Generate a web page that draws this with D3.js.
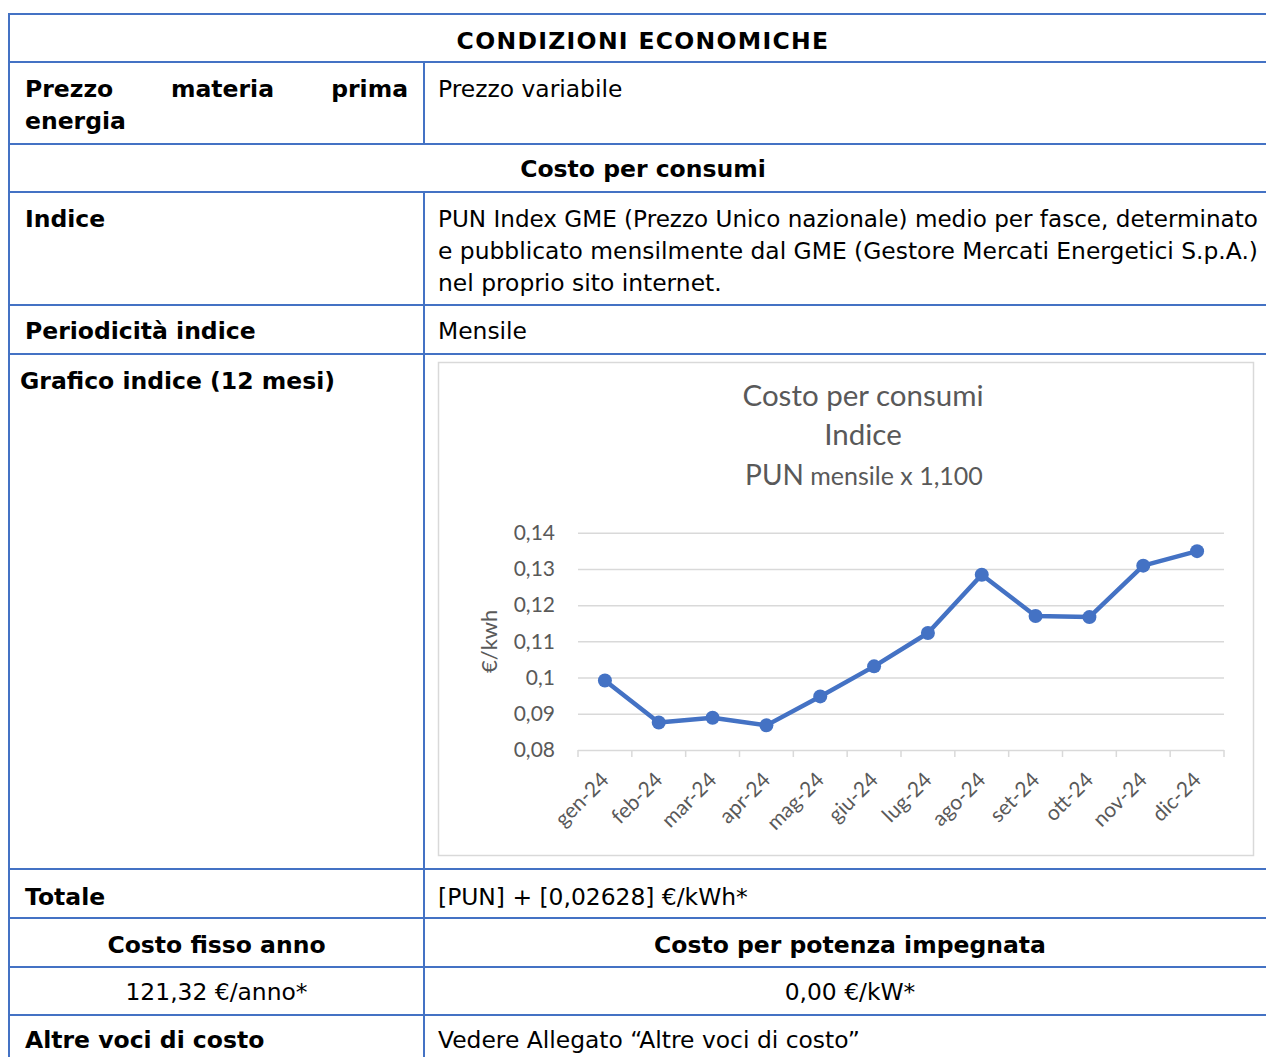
<!DOCTYPE html>
<html>
<head>
<meta charset="utf-8">
<script src="https://cdn.jsdelivr.net/npm/d3@7"></script>
<style>
body { margin: 0; background: #fff; }
svg text { font-family: "DejaVu Sans", sans-serif; }
.cell { font-size: 23.4px; fill: #000; }
.cell.b { font-size: 23.5px; font-weight: bold; }
.ch text { font-family: Lato, "Open Sans", sans-serif; fill: #595959; }
</style>
</head>
<body>
<div id="page"></div>
<script>
// chart data
var months = ["gen-24", "feb-24", "mar-24", "apr-24", "mag-24", "giu-24",
              "lug-24", "ago-24", "set-24", "ott-24", "nov-24", "dic-24"];
var pun = [0.0992, 0.0876, 0.0889, 0.0868, 0.0948, 0.1031,
           0.1123, 0.1284, 0.1170, 0.1167, 0.1309, 0.1349];
var yTicks = [0.08, 0.09, 0.10, 0.11, 0.12, 0.13, 0.14];
var titleLines = ["Costo per consumi", "Indice"];
var subTitle = ["PUN", " mensile x 1,100"];
var yTitle = "€/kwh";

var W = 1266, H = 1057;
var blue = "#4472C4";

var svg = d3.select("#page").append("svg")
    .attr("width", W)
    .attr("height", H);

svg.append("rect").attr("width", W).attr("height", H).attr("fill", "#fff");

// ---- table ----
var rowLines = [14, 62, 144, 192, 305, 354, 869, 918, 967, 1015];
var left = 9, colX = 424, right = W;

svg.selectAll(".hrule")
    .data(rowLines)
  .enter().append("line")
    .attr("class", "hrule")
    .attr("x1", left - 1).attr("x2", right)
    .attr("y1", function(d) { return d; }).attr("y2", function(d) { return d; })
    .style("stroke", blue).style("stroke-width", 2);

svg.append("line")
    .attr("x1", left).attr("x2", left).attr("y1", 13).attr("y2", H)
    .style("stroke", blue).style("stroke-width", 2);

[[62, 144], [192, H]].forEach(function(s) {
  svg.append("line")
      .attr("x1", colX).attr("x2", colX).attr("y1", s[0]).attr("y2", s[1])
      .style("stroke", blue).style("stroke-width", 2);
});

function cell(x, y, txt, bold, anchor) {
  return svg.append("text")
      .attr("class", bold ? "cell b" : "cell")
      .attr("x", x)
      .attr("y", y)
      .style("text-anchor", anchor || "start")
      .text(txt);
}

var midAll = 643, midL = 216.5, midR = 850, tx = 438;

cell(midAll, 49, "CONDIZIONI ECONOMICHE", true, "middle").style("letter-spacing", "1.3px");
cell(25, 97, "Prezzo", true);
cell(171, 97, "materia", true);
cell(408, 97, "prima", true, "end");
cell(25, 129, "energia", true);
cell(tx, 97, "Prezzo variabile");
cell(midAll, 177, "Costo per consumi", true, "middle");
cell(25, 227, "Indice", true);
cell(tx, 227, "PUN Index GME (Prezzo Unico nazionale) medio per fasce, determinato")
    .style("font-size", "23.1px");
cell(tx, 259, "e pubblicato mensilmente dal GME (Gestore Mercati Energetici S.p.A.)");
cell(tx, 291, "nel proprio sito internet.");
cell(25, 339, "Periodicità indice", true);
cell(tx, 339, "Mensile");
cell(20, 389, "Grafico indice (12 mesi)", true);
cell(25, 905, "Totale", true);
cell(tx, 905, "[PUN] + [0,02628] €/kWh*");
cell(midL, 953, "Costo fisso anno", true, "middle");
cell(midR, 953, "Costo per potenza impegnata", true, "middle");
cell(midL, 1000, "121,32 €/anno*", false, "middle");
cell(midR, 1000, "0,00 €/kW*", false, "middle");
cell(25, 1048, "Altre voci di costo", true);
cell(tx, 1048, "Vedere Allegato \u201cAltre voci di costo\u201d");

// ---- chart ----
var ch = svg.append("g").attr("class", "ch");

ch.append("rect")
    .attr("x", 438.5).attr("y", 362.5)
    .attr("width", 815).attr("height", 493)
    .style("fill", "#fff").style("stroke", "#d9d9d9").style("stroke-width", 1.5);

var plot = {left: 578, right: 1224, top: 532.7, bottom: 750};

var x = d3.scaleBand().domain(months).range([plot.left, plot.right]);
var y = d3.scaleLinear().domain([0.08, 0.14]).range([plot.bottom, plot.top]);

var it = d3.formatLocale({decimal: ",", thousands: ".", grouping: [3], currency: ["", "€"]});
var fmt = it.format(".2~f");

var yAxis = d3.axisLeft(y)
    .tickValues(yTicks)
    .tickSize(-(plot.right - plot.left))
    .tickPadding(23)
    .tickFormat(fmt);

var gy = ch.append("g")
    .attr("transform", "translate(" + plot.left + ",0)")
    .call(yAxis);
gy.select(".domain").remove();
gy.selectAll(".tick line").style("stroke", "#d9d9d9").style("stroke-width", 1.5);
gy.selectAll(".tick text")
    .style("font-size", "21px")
    .style("fill", "#595959");

// category tick marks at band edges
var edges = months.map(function(m) { return x(m); }).concat([plot.right]);
ch.selectAll(".xtick")
    .data(edges)
  .enter().append("line")
    .attr("class", "xtick")
    .attr("x1", function(d) { return d; }).attr("x2", function(d) { return d; })
    .attr("y1", plot.bottom).attr("y2", plot.bottom + 7)
    .style("stroke", "#d9d9d9").style("stroke-width", 1.5);

ch.selectAll(".xlab")
    .data(months)
  .enter().append("text")
    .attr("class", "xlab")
    .attr("transform", function(d) {
      return "translate(" + (x(d) + x.bandwidth() / 2) + "," + (plot.bottom + 26) + ") rotate(-45)";
    })
    .attr("dy", "0.35em")
    .style("text-anchor", "end")
    .style("font-size", "21px")
    .text(function(d) { return d; });

ch.append("text")
    .attr("transform", "translate(497," + ((plot.top + plot.bottom) / 2) + ") rotate(-90)")
    .style("text-anchor", "middle")
    .style("font-size", "22px")
    .text(yTitle);

// titles
ch.selectAll(".ttl")
    .data(titleLines)
  .enter().append("text")
    .attr("class", "ttl")
    .attr("x", 863)
    .attr("y", function(d, i) { return 406 + i * 39; })
    .style("text-anchor", "middle")
    .style("font-size", "29.5px")
    .text(function(d) { return d; });

var sub = ch.append("text")
    .attr("x", 864).attr("y", 485)
    .style("text-anchor", "middle");
sub.append("tspan").style("font-size", "28px").text(subTitle[0]);
sub.append("tspan").style("font-size", "25px").text(subTitle[1]);

// series
var line = d3.line()
    .x(function(d, i) { return x(months[i]) + x.bandwidth() / 2; })
    .y(function(d) { return y(d); });

ch.append("path")
    .datum(pun)
    .attr("d", line)
    .style("fill", "none")
    .style("stroke", blue)
    .style("stroke-width", 4.5)
    .style("stroke-linejoin", "round");

ch.selectAll(".dot")
    .data(pun)
  .enter().append("circle")
    .attr("class", "dot")
    .attr("r", 7)
    .attr("cx", function(d, i) { return x(months[i]) + x.bandwidth() / 2; })
    .attr("cy", function(d) { return y(d); })
    .style("fill", blue);
</script>
</body>
</html>
